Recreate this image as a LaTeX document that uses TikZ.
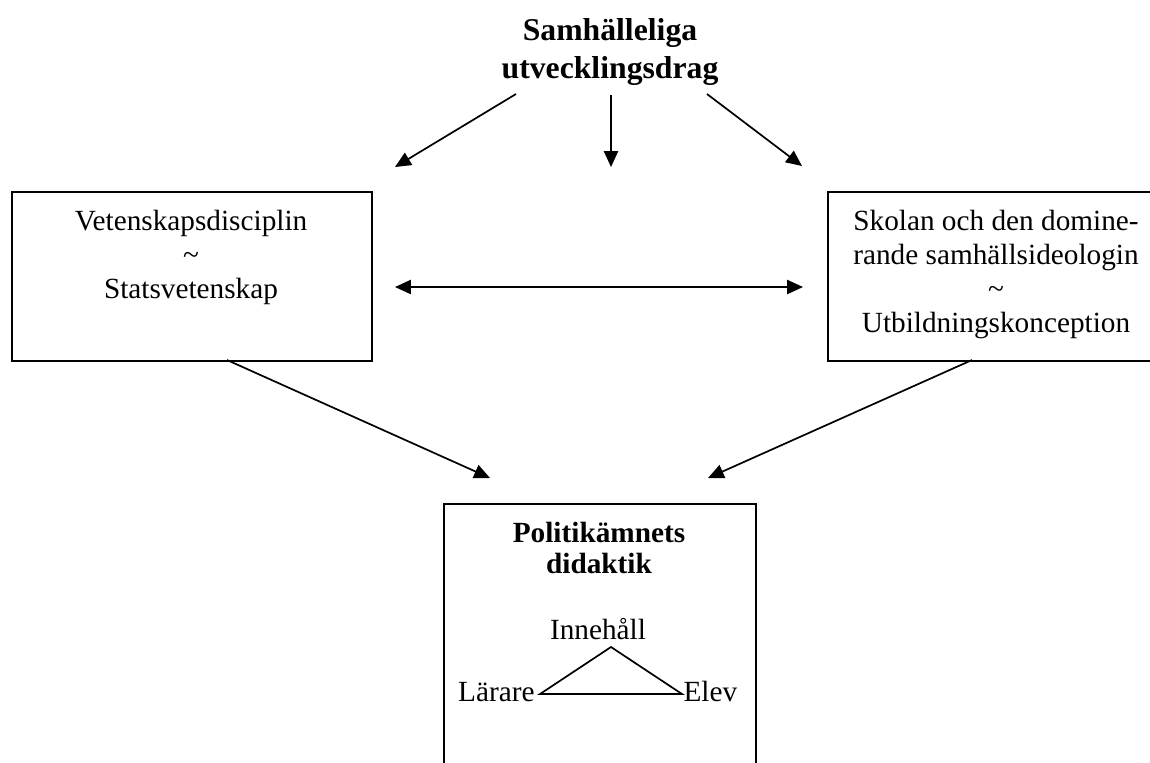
\documentclass[tikz,border=0pt]{standalone}
\usepackage{fontspec}
\setmainfont{Liberation Serif}
\usetikzlibrary{arrows.meta}
\begin{document}
\begin{tikzpicture}[x=0.41pt,y=-0.41pt,
  txt/.style={anchor=base,inner sep=0pt,font=\fontsize{12}{14}\selectfont},
  ttl/.style={anchor=base,inner sep=0pt,font=\fontsize{13}{15}\selectfont\bfseries},
  hd/.style={anchor=base,inner sep=0pt,font=\fontsize{12}{14}\selectfont\bfseries},
  box/.style={draw,line width=0.8pt,inner sep=0pt,anchor=north west},
  arr/.style={line width=0.7pt,-{Triangle[length=6.5pt,width=5.8pt]}},
  darr/.style={line width=0.7pt,{Triangle[length=6.5pt,width=5.8pt]}-{Triangle[length=6.5pt,width=5.8pt]}},
]
\useasboundingbox (0,0) rectangle (1150,762);
\clip (0,0) rectangle (1150,762);

% title
\node[ttl] (t1) at (610,40) {Samhälleliga};
\node[ttl] (t2) at (610,78) {utvecklingsdrag};

% boxes
\node[box,minimum width=147.6pt,minimum height=69.3pt] (vet) at (11,191) {};
\node[box,minimum width=139pt,minimum height=69.3pt] (sko) at (827,191) {};
\node[box,minimum width=127.9pt,minimum height=122pt] (pol) at (443,503) {};

% left box text
\node[txt] (v1) at (191,230) {Vetenskapsdisciplin};
\node[txt] (v2) at (191,264) {\textasciitilde};
\node[txt] (v3) at (191,298) {Statsvetenskap};

% right box text
\node[txt] (s1) at (996,230) {Skolan och den domine-};
\node[txt] (s2) at (996,264) {rande samhällsideologin};
\node[txt] (s3) at (996,298) {\textasciitilde};
\node[txt] (s4) at (996,332) {Utbildningskonception};

% bottom box text
\node[hd] (p1) at (599,542) {Politikämnets};
\node[hd] (p2) at (599,573) {didaktik};
\node[txt] (inn) at (598,639) {Innehåll};
\node[txt,anchor=base east] (lar) at (535,701) {Lärare};
\node[txt,anchor=base west] (elv) at (683,701) {Elev};

% triangle
\coordinate (ti) at (611,647);
\coordinate (tl) at (540,694);
\coordinate (tr) at (682,694);
\draw[line width=0.7pt] (tl) -- (ti) -- (tr) -- cycle;

% arrow end points
\coordinate (a1s) at (516,94);  \coordinate (a1e) at (395,167);
\coordinate (a2s) at (611,95);  \coordinate (a2e) at (611,167);
\coordinate (a3s) at (707,94);  \coordinate (a3e) at (802,166);
\coordinate (a4s) at (395,287); \coordinate (a4e) at (803,287);
\coordinate (a5s) at (227,360); \coordinate (a5e) at (490,478);
\coordinate (a6s) at (972,360); \coordinate (a6e) at (708,478);

\draw[arr] (a1s) -- (a1e);
\draw[arr] (a2s) -- (a2e);
\draw[arr] (a3s) -- (a3e);
\draw[darr] (a4s) -- (a4e);
\draw[arr] (a5s) -- (a5e);
\draw[arr] (a6s) -- (a6e);
\end{tikzpicture}
\end{document}
